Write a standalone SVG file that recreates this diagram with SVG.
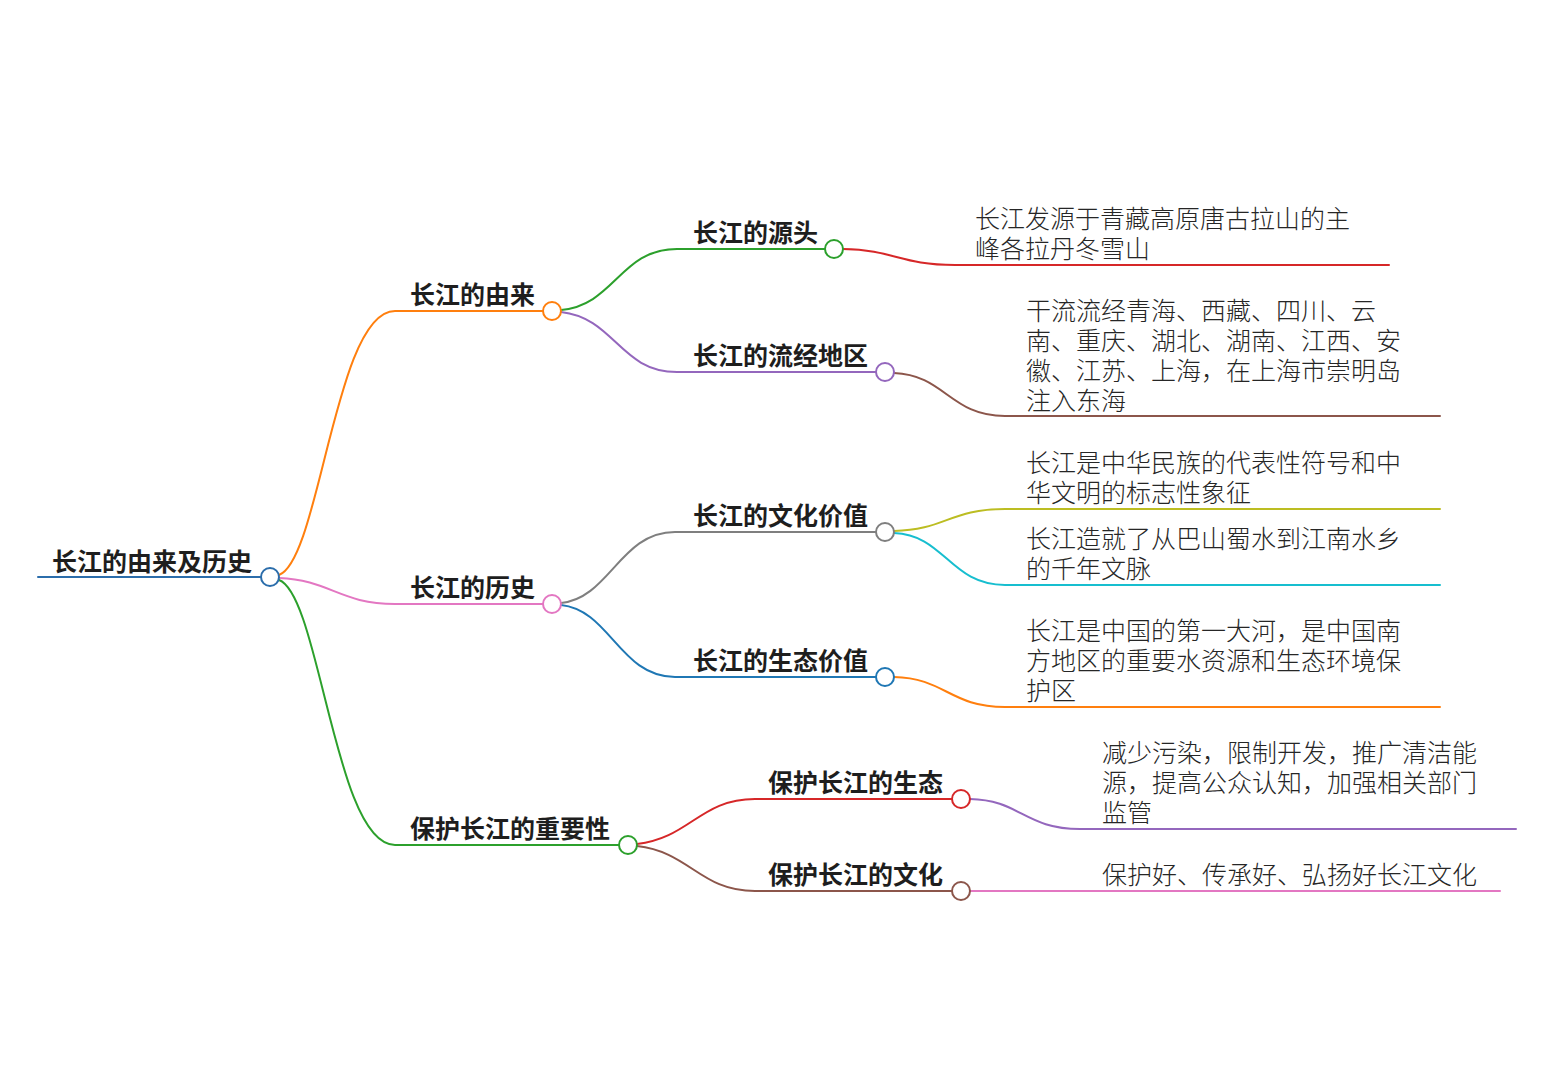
<svg xmlns="http://www.w3.org/2000/svg" width="1552" height="1074" viewBox="0 0 1552 1074">
<style>
.c{fill:none;stroke-width:2;stroke-linecap:round}
.n{fill:#fff;stroke-width:2}
.b{font-family:"Noto Sans CJK SC","Noto Sans",sans-serif;font-size:25px;font-weight:700;fill:#1e1e1e}
.t{font-family:"Noto Sans CJK SC","Noto Sans",sans-serif;font-size:25px;font-weight:300;fill:#262626}
</style>
<rect width="1552" height="1074" fill="#fff"/>
<g id="connectors">
<path class="c" d="M38,577 H261" stroke="#2b6dab" stroke-width="3"/>
<path class="c" d="M279,575 C320,560 335,311 395,311 H543" stroke="#ff7f0e"/>
<path class="c" d="M279,578 C330,580 340,604 395,604 H543" stroke="#e377c2"/>
<path class="c" d="M279,580 C320,595 335,845 395,845 H619" stroke="#2ca02c"/>
<path class="c" d="M561,310 C615,305 620,249 677,249 H825" stroke="#2ca02c"/>
<path class="c" d="M561,312 C615,318 620,372 677,372 H876" stroke="#9467bd"/>
<path class="c" d="M561,603 C610,598 620,532 675,532 H876" stroke="#7f7f7f"/>
<path class="c" d="M561,605 C610,610 620,677 675,677 H876" stroke="#1f77b4"/>
<path class="c" d="M637,844 C690,838 700,799 755,799 H952" stroke="#d62728"/>
<path class="c" d="M637,846 C690,852 700,891 755,891 H952" stroke="#8c564b"/>
<path class="c" d="M843,249 C895,250 900,265 955,265 H1389" stroke="#d62728"/>
<path class="c" d="M894,373 C945,375 950,416 1005,416 H1440" stroke="#8c564b"/>
<path class="c" d="M894,531 C945,530 950,509 1005,509 H1440" stroke="#bcbd22"/>
<path class="c" d="M894,533 C945,535 950,585 1005,585 H1440" stroke="#17becf"/>
<path class="c" d="M894,677 C945,678 950,707 1005,707 H1440" stroke="#ff7f0e"/>
<path class="c" d="M970,799 C1020,800 1025,829 1080,829 H1516" stroke="#9467bd"/>
<path class="c" d="M970,891 H1500" stroke="#e377c2"/>
</g>
<g id="root"><text class="b" x="52" y="571">长江的由来及历史</text><circle class="n" cx="270" cy="577" r="9" stroke="#2b6dab"/></g>
<g id="n-youlai"><text class="b" x="410" y="304">长江的由来</text><circle class="n" cx="552" cy="311" r="9" stroke="#ff7f0e"/></g>
<g id="n-lishi"><text class="b" x="410" y="597">长江的历史</text><circle class="n" cx="552" cy="604" r="9" stroke="#e377c2"/></g>
<g id="n-baohu"><text class="b" x="410" y="838">保护长江的重要性</text><circle class="n" cx="628" cy="845" r="9" stroke="#2ca02c"/></g>
<g id="n-yuantou"><text class="b" x="693" y="242">长江的源头</text><circle class="n" cx="834" cy="249" r="9" stroke="#2ca02c"/></g>
<g id="n-liujing"><text class="b" x="693" y="365">长江的流经地区</text><circle class="n" cx="885" cy="372" r="9" stroke="#9467bd"/></g>
<g id="n-wenhua"><text class="b" x="693" y="525">长江的文化价值</text><circle class="n" cx="885" cy="532" r="9" stroke="#7f7f7f"/></g>
<g id="n-shengtai"><text class="b" x="693" y="670">长江的生态价值</text><circle class="n" cx="885" cy="677" r="9" stroke="#1f77b4"/></g>
<g id="n-bh-shengtai"><text class="b" x="768" y="792">保护长江的生态</text><circle class="n" cx="961" cy="799" r="9" stroke="#d62728"/></g>
<g id="n-bh-wenhua"><text class="b" x="768" y="884">保护长江的文化</text><circle class="n" cx="961" cy="891" r="9" stroke="#8c564b"/></g>
<g id="l-yuantou"><text class="t" x="975" y="228">长江发源于青藏高原唐古拉山的主</text><text class="t" x="975" y="258">峰各拉丹冬雪山</text></g>
<g id="l-liujing"><text class="t" x="1026" y="320">干流流经青海、西藏、四川、云</text><text class="t" x="1026" y="350">南、重庆、湖北、湖南、江西、安</text><text class="t" x="1026" y="380">徽、江苏、上海，在上海市崇明岛</text><text class="t" x="1026" y="410">注入东海</text></g>
<g id="l-wenhua1"><text class="t" x="1026" y="472">长江是中华民族的代表性符号和中</text><text class="t" x="1026" y="502">华文明的标志性象征</text></g>
<g id="l-wenhua2"><text class="t" x="1026" y="548">长江造就了从巴山蜀水到江南水乡</text><text class="t" x="1026" y="578">的千年文脉</text></g>
<g id="l-shengtai"><text class="t" x="1026" y="640">长江是中国的第一大河，是中国南</text><text class="t" x="1026" y="670">方地区的重要水资源和生态环境保</text><text class="t" x="1026" y="700">护区</text></g>
<g id="l-bh-shengtai"><text class="t" x="1102" y="762">减少污染，限制开发，推广清洁能</text><text class="t" x="1102" y="792">源，提高公众认知，加强相关部门</text><text class="t" x="1102" y="822">监管</text></g>
<g id="l-bh-wenhua"><text class="t" x="1102" y="884">保护好、传承好、弘扬好长江文化</text></g>
</svg>
